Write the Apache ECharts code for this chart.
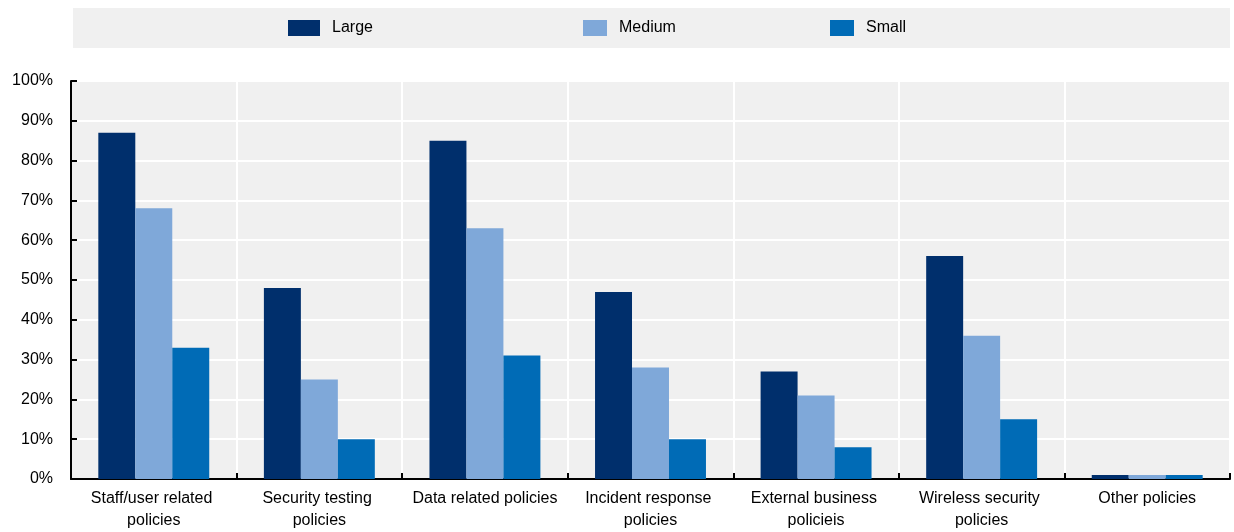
<!DOCTYPE html>
<html>
  <head>
    <meta charset="utf-8" />
    <title>Security policies by firm size</title>
    <script src="https://cdn.jsdelivr.net/npm/echarts/dist/echarts.min.js"></script>
    <style>
      html, body { margin: 0; padding: 0; background: #fff; }
    </style>
  </head>
  <body>
    <div id="main" style="width: 1234px; height: 532px"></div>
    <script type="text/javascript">
      var myChart = echarts.init(document.getElementById('main'));

      // categories along the x axis
      var categories = [
        'Staff/user related policies',
        'Security testing policies',
        'Data related policies',
        'Incident response policies',
        'External business policieis',
        'Wireless security policies',
        'Other policies'
      ];

      // share of firms (%) per size class
      var large = [87, 48, 85, 47, 27, 56, 1];
      var medium = [68, 25, 63, 28, 21, 36, 1];
      var small = [33, 10, 31, 10, 8, 15, 1];

      var seriesNames = ['Large', 'Medium', 'Small'];
      var colors = ['#002f6c', '#7fa8d9', '#006bb6'];

      var font = 'Arial, "Liberation Sans", sans-serif';

      function legendAt(name, left, w) {
        return {
          data: [name],
          left: left,
          top: 20,
          itemWidth: w,
          itemHeight: 16,
          icon: 'rect',
          padding: 0,
          textStyle: {
            fontFamily: font,
            fontSize: 16,
            color: '#000',
            padding: [2, 0, 0, 7]
          }
        };
      }

      var option = {
        animation: false,
        graphic: [
          {
            type: 'rect',
            shape: { x: 73, y: 8, width: 1157, height: 40 },
            style: { fill: '#f0f0f0' },
            silent: true,
            z: -1
          }
        ],
        legend: [
          legendAt('Large', 288, 32),
          legendAt('Medium', 583, 24),
          legendAt('Small', 830, 24)
        ],
        grid: {
          left: 71,
          right: 4,
          top: 81,
          bottom: 50,
          show: true,
          backgroundColor: '#f0f0f0',
          borderWidth: 0
        },
        xAxis: {
          type: 'category',
          data: categories,
          axisLine: { lineStyle: { color: '#000', width: 2 } },
          axisTick: { show: true, inside: true, length: 6, lineStyle: { color: '#000', width: 2 } },
          splitLine: { show: true, lineStyle: { color: '#fff', width: 2 } },
          axisLabel: {
            interval: 0,
            margin: 9,
            fontFamily: font,
            fontSize: 16,
            lineHeight: 22,
            color: '#000',
            width: 160,
            overflow: 'break'
          }
        },
        yAxis: {
          type: 'value',
          min: 0,
          max: 100,
          interval: 10,
          axisLine: { show: true, lineStyle: { color: '#000', width: 2 } },
          axisTick: { show: true, inside: true, length: 6, lineStyle: { color: '#000', width: 2 } },
          splitLine: { show: true, lineStyle: { color: '#fff', width: 2 } },
          axisLabel: {
            margin: 18,
            formatter: '{value}%',
            fontFamily: font,
            fontSize: 16,
            color: '#000'
          }
        },
        series: [large, medium, small].map(function (values, i) {
          return {
            name: seriesNames[i],
            type: 'bar',
            data: values,
            barGap: '0%',
            barCategoryGap: '33%',
            itemStyle: { color: colors[i] }
          };
        })
      };

      myChart.setOption(option);
    </script>
  </body>
</html>
